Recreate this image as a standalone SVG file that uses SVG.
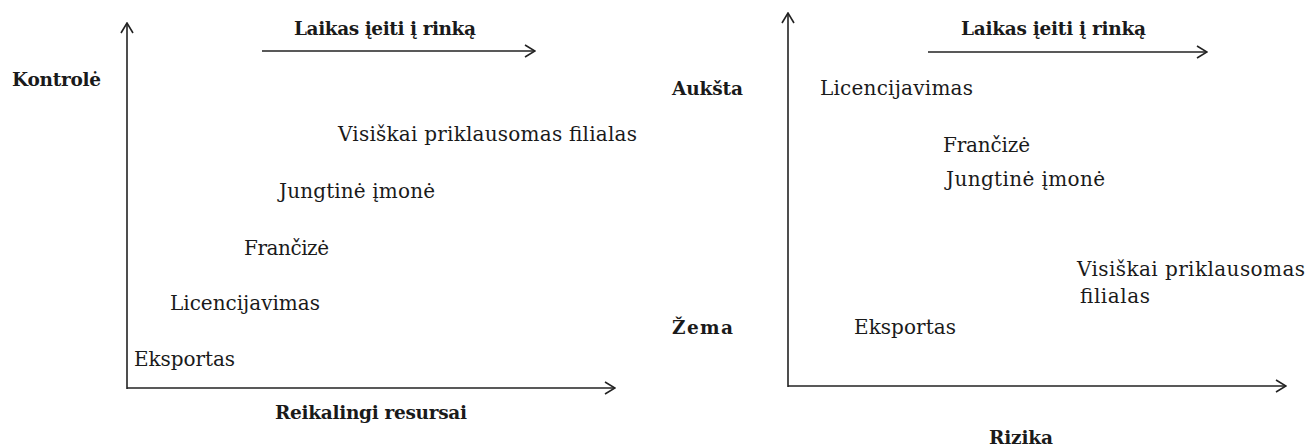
<svg xmlns="http://www.w3.org/2000/svg" width="1311" height="446" viewBox="0 0 1311 446">
  <style>
    .lbl { font-family: "DejaVu Serif", "Liberation Serif", serif; font-size: 20px; fill: #1a1a1a; }
    .bold { font-family: "DejaVu Serif", "Liberation Serif", serif; font-size: 18.5px; font-weight: bold; fill: #1a1a1a; }
    .ax { stroke: #222; stroke-width: 1.6; fill: none; marker-end: url(#arr); }
  </style>
  <defs>
    <marker id="arr" viewBox="0 0 12 14" refX="11" refY="7" markerWidth="12" markerHeight="14" markerUnits="userSpaceOnUse" orient="auto">
      <path d="M1,1 L11,7 L1,13" fill="none" stroke="#222" stroke-width="1.6"/>
    </marker>
  </defs>
  <rect width="1311" height="446" fill="#ffffff"/>

  <g id="connectors">
    <line class="ax" x1="262" y1="51" x2="535" y2="51"/>
    <line class="ax" x1="127" y1="389" x2="127" y2="23"/>
    <line class="ax" x1="127" y1="388" x2="615" y2="388"/>
    <line class="ax" x1="928" y1="52" x2="1207" y2="52"/>
    <line class="ax" x1="788" y1="387" x2="788" y2="13"/>
    <line class="ax" x1="788" y1="386" x2="1286" y2="386"/>
  </g>

  <g id="left-time"><text class="bold" x="294" y="35" textLength="182">Laikas įeiti į rinką</text></g>
  <g id="left-kontrole"><text class="bold" x="12" y="86" textLength="89">Kontrolė</text></g>
  <g id="left-filialas"><text class="lbl" x="338" y="141" textLength="299">Visiškai priklausomas filialas</text></g>
  <g id="left-jungtine"><text class="lbl" x="279" y="198" textLength="156">Jungtinė įmonė</text></g>
  <g id="left-franchize"><text class="lbl" x="244" y="255" textLength="85">Frančizė</text></g>
  <g id="left-licencijavimas"><text class="lbl" x="170" y="310" textLength="150">Licencijavimas</text></g>
  <g id="left-eksportas"><text class="lbl" x="134" y="366" textLength="101">Eksportas</text></g>
  <g id="left-resursai"><text class="bold" x="275" y="419" textLength="192">Reikalingi resursai</text></g>

  <g id="right-time"><text class="bold" x="961" y="35" textLength="185">Laikas įeiti į rinką</text></g>
  <g id="right-auksta"><text class="bold" x="672" y="95" textLength="71">Aukšta</text></g>
  <g id="right-licencijavimas"><text class="lbl" x="820" y="95" textLength="153">Licencijavimas</text></g>
  <g id="right-franchize"><text class="lbl" x="943" y="152" textLength="87">Frančizė</text></g>
  <g id="right-jungtine"><text class="lbl" x="946" y="186" textLength="159">Jungtinė įmonė</text></g>
  <g id="right-filialas">
    <text class="lbl" x="1077" y="276" textLength="228">Visiškai priklausomas</text>
    <text class="lbl" x="1080" y="303" textLength="70">filialas</text>
  </g>
  <g id="right-zema"><text class="bold" x="672" y="334" textLength="61">Žema</text></g>
  <g id="right-eksportas"><text class="lbl" x="854" y="334" textLength="102">Eksportas</text></g>
  <g id="right-rizika"><text class="bold" x="989" y="444" textLength="64">Rizika</text></g>
</svg>
